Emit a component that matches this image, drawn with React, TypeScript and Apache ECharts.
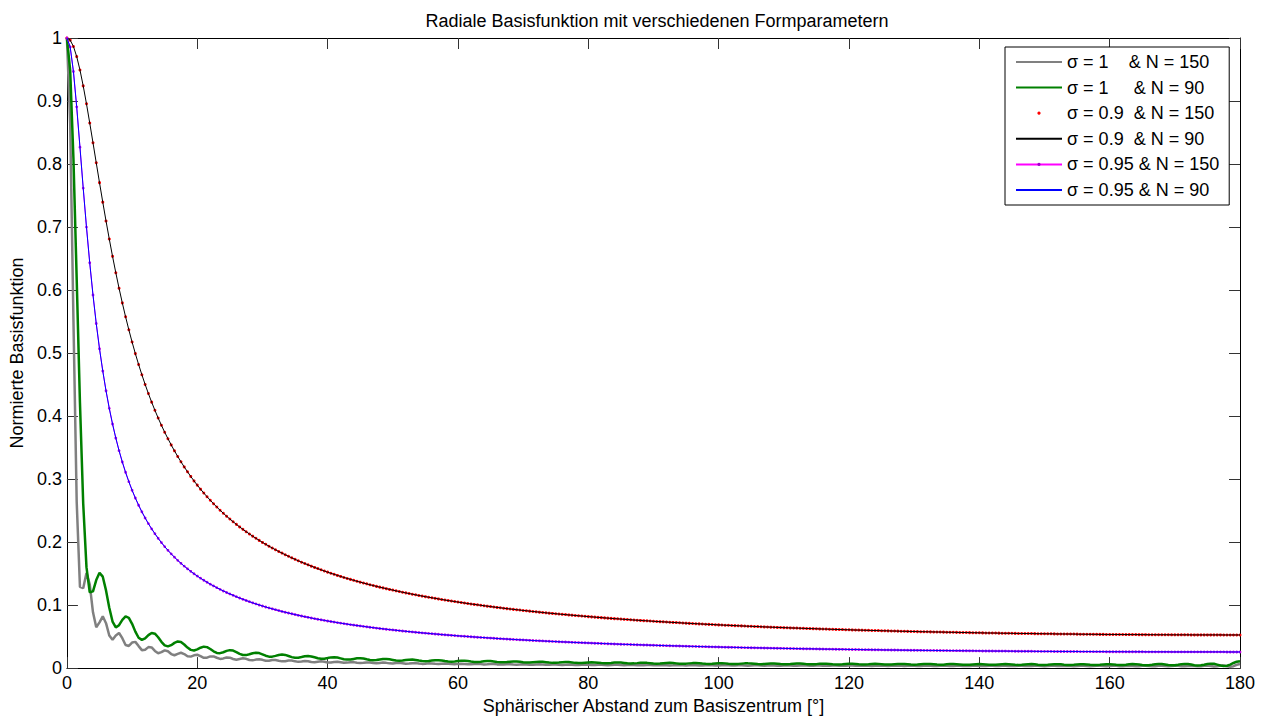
import React, { useEffect, useRef } from "react";
import * as echarts from "echarts";

// Spherical distance grid: samples every half degree from 0° to 180°
const ANGLE_STEP = 0.5;

const xTickLabels = ["0", "20", "40", "60", "80", "100", "120", "140", "160", "180"];
const yTickLabels = ["0", "0.1", "0.2", "0.3", "0.4", "0.5", "0.6", "0.7", "0.8", "0.9", "1"];

const seriesNames = [
  "σ = 1    & N = 150",
  "σ = 1     & N = 90",
  "σ = 0.9  & N = 150",
  "σ = 0.9  & N = 90",
  "σ = 0.95 & N = 150",
  "σ = 0.95 & N = 90",
];

// σ = 1, N = 150
const sigma1N150 = [
  1.0, 0.8644, 0.5528, 0.2639, 0.1288, 0.1268, 0.151, 0.133, 0.0886, 0.0649,
  0.0726, 0.0822, 0.0713, 0.0517, 0.0449, 0.0518, 0.0557, 0.0475, 0.0366, 0.0351,
  0.0405, 0.0416, 0.0349, 0.0285, 0.0292, 0.0333, 0.0328, 0.0273, 0.0236, 0.0253,
  0.0282, 0.0267, 0.0223, 0.0204, 0.0225, 0.0243, 0.0223, 0.0188, 0.0182, 0.0203,
  0.0212, 0.019, 0.0164, 0.0166, 0.0185, 0.0186, 0.0164, 0.0146, 0.0154, 0.0169,
  0.0165, 0.0144, 0.0133, 0.0144, 0.0155, 0.0147, 0.0128, 0.0123, 0.0135, 0.0142,
  0.0131, 0.0116, 0.0116, 0.0128, 0.013, 0.0118, 0.0107, 0.011, 0.0121, 0.012,
  0.0107, 0.0099, 0.0106, 0.0114, 0.011, 0.0098, 0.0094, 0.0102, 0.0107, 0.0101,
  0.009, 0.009, 0.0098, 0.0101, 0.0093, 0.0084, 0.0087, 0.0094, 0.0095, 0.0086,
  0.008, 0.0084, 0.009, 0.0088, 0.008, 0.0076, 0.0082, 0.0087, 0.0083, 0.0075,
  0.0074, 0.008, 0.0083, 0.0077, 0.007, 0.0072, 0.0078, 0.0079, 0.0072, 0.0067,
  0.007, 0.0075, 0.0074, 0.0068, 0.0065, 0.0069, 0.0073, 0.007, 0.0064, 0.0063,
  0.0067, 0.007, 0.0066, 0.0061, 0.0061, 0.0066, 0.0068, 0.0063, 0.0058, 0.006,
  0.0065, 0.0065, 0.0059, 0.0056, 0.0059, 0.0063, 0.0062, 0.0056, 0.0055, 0.0059,
  0.0062, 0.0059, 0.0054, 0.0054, 0.0058, 0.006, 0.0056, 0.0052, 0.0053, 0.0057,
  0.0058, 0.0053, 0.005, 0.0053, 0.0056, 0.0055, 0.0051, 0.0049, 0.0052, 0.0055,
  0.0053, 0.0049, 0.0048, 0.0052, 0.0054, 0.0051, 0.0047, 0.0048, 0.0052, 0.0052,
  0.0049, 0.0046, 0.0048, 0.0051, 0.005, 0.0047, 0.0045, 0.0047, 0.005, 0.0049,
  0.0045, 0.0044, 0.0047, 0.0049, 0.0047, 0.0043, 0.0044, 0.0047, 0.0048, 0.0045,
  0.0042, 0.0044, 0.0047, 0.0047, 0.0043, 0.0041, 0.0044, 0.0046, 0.0045, 0.0042,
  0.0041, 0.0044, 0.0046, 0.0044, 0.004, 0.004, 0.0044, 0.0045, 0.0042, 0.0039,
  0.004, 0.0044, 0.0044, 0.0041, 0.0039, 0.0041, 0.0043, 0.0043, 0.0039, 0.0038,
  0.0041, 0.0043, 0.0041, 0.0038, 0.0038, 0.0041, 0.0042, 0.004, 0.0037, 0.0038,
  0.0041, 0.0042, 0.0039, 0.0036, 0.0038, 0.0041, 0.0041, 0.0037, 0.0036, 0.0038,
  0.0041, 0.004, 0.0036, 0.0036, 0.0039, 0.0041, 0.0038, 0.0035, 0.0036, 0.0039,
  0.004, 0.0037, 0.0035, 0.0036, 0.0039, 0.0039, 0.0036, 0.0034, 0.0036, 0.0039,
  0.0038, 0.0035, 0.0034, 0.0037, 0.0039, 0.0037, 0.0034, 0.0034, 0.0037, 0.0039,
  0.0036, 0.0033, 0.0034, 0.0038, 0.0038, 0.0035, 0.0033, 0.0035, 0.0038, 0.0037,
  0.0034, 0.0033, 0.0035, 0.0038, 0.0036, 0.0033, 0.0033, 0.0036, 0.0038, 0.0035,
  0.0032, 0.0033, 0.0037, 0.0037, 0.0034, 0.0032, 0.0034, 0.0037, 0.0037, 0.0033,
  0.0031, 0.0034, 0.0037, 0.0036, 0.0032, 0.0032, 0.0035, 0.0037, 0.0035, 0.0031,
  0.0032, 0.0036, 0.0037, 0.0034, 0.0031, 0.0033, 0.0036, 0.0036, 0.0032, 0.003,
  0.0033, 0.0037, 0.0036, 0.0031, 0.003, 0.0034, 0.0037, 0.0035, 0.003, 0.003,
  0.0036, 0.0038, 0.0033, 0.0029, 0.0031, 0.0037, 0.0037, 0.0032, 0.0028, 0.0032,
  0.0038, 0.0036, 0.003, 0.0028, 0.0034, 0.0039, 0.0035, 0.0028, 0.0028, 0.0036,
  0.004, 0.0034, 0.0025, 0.0029, 0.004, 0.0042, 0.003, 0.002, 0.003, 0.0053,
  0.0066,
];

// σ = 1, N = 90
const sigma1N90 = [
  1.0, 0.9487, 0.8087, 0.6172, 0.421, 0.2609, 0.1602, 0.1201, 0.1218, 0.1397,
  0.1512, 0.1451, 0.1233, 0.0957, 0.0739, 0.0647, 0.0681, 0.0765, 0.082, 0.0798,
  0.0703, 0.0579, 0.0482, 0.0448, 0.0473, 0.0524, 0.0558, 0.0546, 0.049, 0.0417,
  0.0361, 0.0344, 0.0364, 0.04, 0.0423, 0.0414, 0.0375, 0.0326, 0.0289, 0.028,
  0.0297, 0.0324, 0.034, 0.0333, 0.0303, 0.0267, 0.0241, 0.0237, 0.0252, 0.0273,
  0.0285, 0.0278, 0.0254, 0.0226, 0.0208, 0.0206, 0.0219, 0.0236, 0.0245, 0.0238,
  0.0219, 0.0197, 0.0182, 0.0182, 0.0194, 0.0208, 0.0215, 0.0209, 0.0192, 0.0174,
  0.0163, 0.0164, 0.0175, 0.0187, 0.0192, 0.0185, 0.0171, 0.0156, 0.0147, 0.0149,
  0.0159, 0.017, 0.0173, 0.0167, 0.0154, 0.0141, 0.0135, 0.0137, 0.0146, 0.0155,
  0.0158, 0.0152, 0.014, 0.0129, 0.0124, 0.0127, 0.0136, 0.0143, 0.0145, 0.0139,
  0.0129, 0.0119, 0.0116, 0.0119, 0.0127, 0.0134, 0.0135, 0.0129, 0.0119, 0.0111,
  0.0108, 0.0112, 0.0119, 0.0125, 0.0126, 0.012, 0.0111, 0.0104, 0.0102, 0.0106,
  0.0113, 0.0118, 0.0118, 0.0112, 0.0104, 0.0098, 0.0096, 0.01, 0.0107, 0.0111,
  0.0111, 0.0105, 0.0098, 0.0092, 0.0092, 0.0096, 0.0102, 0.0106, 0.0105, 0.0099,
  0.0092, 0.0088, 0.0087, 0.0092, 0.0097, 0.0101, 0.01, 0.0094, 0.0088, 0.0083,
  0.0084, 0.0088, 0.0093, 0.0096, 0.0095, 0.0089, 0.0083, 0.008, 0.008, 0.0085,
  0.009, 0.0092, 0.009, 0.0085, 0.008, 0.0077, 0.0078, 0.0082, 0.0087, 0.0089,
  0.0087, 0.0082, 0.0076, 0.0074, 0.0075, 0.0079, 0.0084, 0.0086, 0.0083, 0.0078,
  0.0073, 0.0071, 0.0073, 0.0077, 0.0081, 0.0083, 0.008, 0.0075, 0.007, 0.0069,
  0.0071, 0.0075, 0.0079, 0.008, 0.0077, 0.0072, 0.0068, 0.0067, 0.0069, 0.0073,
  0.0077, 0.0078, 0.0075, 0.007, 0.0066, 0.0065, 0.0067, 0.0071, 0.0075, 0.0075,
  0.0072, 0.0068, 0.0064, 0.0063, 0.0066, 0.007, 0.0073, 0.0073, 0.007, 0.0065,
  0.0062, 0.0062, 0.0064, 0.0069, 0.0072, 0.0072, 0.0068, 0.0063, 0.006, 0.006,
  0.0063, 0.0068, 0.007, 0.007, 0.0066, 0.0062, 0.0059, 0.0059, 0.0062, 0.0066,
  0.0069, 0.0068, 0.0065, 0.006, 0.0057, 0.0058, 0.0061, 0.0066, 0.0068, 0.0067,
  0.0063, 0.0059, 0.0056, 0.0057, 0.0061, 0.0065, 0.0067, 0.0066, 0.0062, 0.0057,
  0.0055, 0.0056, 0.006, 0.0064, 0.0066, 0.0064, 0.006, 0.0056, 0.0054, 0.0055,
  0.006, 0.0064, 0.0065, 0.0063, 0.0059, 0.0055, 0.0053, 0.0055, 0.0059, 0.0063,
  0.0065, 0.0062, 0.0058, 0.0053, 0.0052, 0.0054, 0.0059, 0.0063, 0.0064, 0.0061,
  0.0057, 0.0052, 0.0051, 0.0054, 0.0059, 0.0063, 0.0064, 0.0061, 0.0055, 0.0051,
  0.005, 0.0053, 0.0059, 0.0063, 0.0063, 0.006, 0.0054, 0.005, 0.0049, 0.0053,
  0.0059, 0.0063, 0.0063, 0.0059, 0.0053, 0.0049, 0.0049, 0.0053, 0.0059, 0.0063,
  0.0063, 0.0059, 0.0052, 0.0048, 0.0048, 0.0053, 0.006, 0.0064, 0.0063, 0.0058,
  0.0051, 0.0046, 0.0047, 0.0053, 0.0061, 0.0065, 0.0064, 0.0057, 0.0049, 0.0045,
  0.0046, 0.0054, 0.0063, 0.0067, 0.0064, 0.0056, 0.0046, 0.0041, 0.0045, 0.0054,
  0.0066, 0.0071, 0.0068, 0.0055, 0.0041, 0.0033, 0.0038, 0.0056, 0.0081, 0.0102,
  0.011,
];

// σ = 0.9 (N = 150 and N = 90 coincide)
const sigma09 = [
  1.0, 0.9966, 0.9866, 0.9705, 0.9493, 0.924, 0.8956, 0.8652, 0.8338, 0.802,
  0.7704, 0.7395, 0.7096, 0.6809, 0.6535, 0.6275, 0.6028, 0.5796, 0.5576, 0.5369,
  0.5175, 0.4991, 0.4818, 0.4656, 0.4502, 0.4358, 0.4221, 0.4092, 0.3969, 0.3854,
  0.3744, 0.3641, 0.3542, 0.3448, 0.3359, 0.3274, 0.3193, 0.3116, 0.3042, 0.2971,
  0.2904, 0.284, 0.2778, 0.272, 0.2663, 0.2609, 0.2556, 0.2506, 0.2457, 0.2411,
  0.2366, 0.2323, 0.2281, 0.2241, 0.2202, 0.2165, 0.2129, 0.2094, 0.206, 0.2027,
  0.1995, 0.1965, 0.1935, 0.1906, 0.1878, 0.1851, 0.1825, 0.1799, 0.1774, 0.175,
  0.1726, 0.1703, 0.1681, 0.166, 0.1639, 0.1618, 0.1598, 0.1579, 0.156, 0.1541,
  0.1523, 0.1505, 0.1488, 0.1471, 0.1455, 0.1439, 0.1423, 0.1408, 0.1393, 0.1378,
  0.1364, 0.135, 0.1337, 0.1323, 0.131, 0.1297, 0.1285, 0.1273, 0.1261, 0.1249,
  0.1238, 0.1226, 0.1215, 0.1204, 0.1194, 0.1183, 0.1173, 0.1163, 0.1153, 0.1143,
  0.1134, 0.1125, 0.1116, 0.1107, 0.1098, 0.1089, 0.1081, 0.1072, 0.1064, 0.1056,
  0.1048, 0.104, 0.1033, 0.1025, 0.1018, 0.1011, 0.1004, 0.0997, 0.099, 0.0983,
  0.0976, 0.097, 0.0963, 0.0957, 0.0951, 0.0944, 0.0938, 0.0932, 0.0927, 0.0921,
  0.0915, 0.091, 0.0904, 0.0899, 0.0893, 0.0888, 0.0883, 0.0877, 0.0872, 0.0868,
  0.0863, 0.0858, 0.0853, 0.0849, 0.0844, 0.084, 0.0835, 0.0831, 0.0826, 0.0822,
  0.0817, 0.0813, 0.0809, 0.0805, 0.0801, 0.0797, 0.0793, 0.0789, 0.0785, 0.0782,
  0.0778, 0.0774, 0.0771, 0.0767, 0.0763, 0.076, 0.0757, 0.0753, 0.075, 0.0747,
  0.0743, 0.074, 0.0737, 0.0734, 0.0731, 0.0728, 0.0725, 0.0722, 0.0719, 0.0716,
  0.0713, 0.071, 0.0707, 0.0705, 0.0702, 0.0699, 0.0697, 0.0694, 0.0692, 0.0689,
  0.0686, 0.0684, 0.0681, 0.0679, 0.0677, 0.0674, 0.0672, 0.067, 0.0667, 0.0665,
  0.0663, 0.0661, 0.0659, 0.0656, 0.0654, 0.0652, 0.065, 0.0648, 0.0646, 0.0644,
  0.0642, 0.064, 0.0638, 0.0636, 0.0635, 0.0633, 0.0631, 0.0629, 0.0627, 0.0626,
  0.0624, 0.0622, 0.062, 0.0619, 0.0617, 0.0615, 0.0614, 0.0612, 0.0611, 0.0609,
  0.0608, 0.0606, 0.0604, 0.0603, 0.0602, 0.06, 0.0599, 0.0597, 0.0596, 0.0595,
  0.0593, 0.0592, 0.0591, 0.0589, 0.0588, 0.0587, 0.0585, 0.0584, 0.0583, 0.0582,
  0.0581, 0.0579, 0.0578, 0.0577, 0.0576, 0.0575, 0.0574, 0.0573, 0.0572, 0.0571,
  0.057, 0.0569, 0.0568, 0.0567, 0.0566, 0.0565, 0.0564, 0.0563, 0.0562, 0.0561,
  0.056, 0.0559, 0.0558, 0.0557, 0.0557, 0.0556, 0.0555, 0.0554, 0.0553, 0.0553,
  0.0552, 0.0551, 0.055, 0.055, 0.0549, 0.0548, 0.0548, 0.0547, 0.0546, 0.0546,
  0.0545, 0.0544, 0.0544, 0.0543, 0.0542, 0.0542, 0.0541, 0.0541, 0.054, 0.054,
  0.0539, 0.0538, 0.0538, 0.0537, 0.0537, 0.0536, 0.0536, 0.0535, 0.0535, 0.0534,
  0.0534, 0.0534, 0.0534, 0.0533, 0.0533, 0.0532, 0.0532, 0.0532, 0.0532, 0.0531,
  0.0531, 0.0531, 0.053, 0.053, 0.053, 0.0529, 0.0529, 0.0529, 0.0529, 0.0528,
  0.0528, 0.0528, 0.0528, 0.0528, 0.0528, 0.0527, 0.0527, 0.0527, 0.0527, 0.0527,
  0.0527, 0.0527, 0.0527, 0.0527, 0.0527, 0.0526, 0.0526, 0.0526, 0.0526, 0.0526,
  0.0526,
];

// σ = 0.95 (N = 150 and N = 90 coincide)
const sigma095 = [
  1.0, 0.9858, 0.9467, 0.8907, 0.8268, 0.7618, 0.6999, 0.6432, 0.5922, 0.5469,
  0.5069, 0.4715, 0.4401, 0.4122, 0.3874, 0.3651, 0.3451, 0.3271, 0.3107, 0.2959,
  0.2823, 0.2699, 0.2585, 0.248, 0.2383, 0.2293, 0.221, 0.2133, 0.206, 0.1992,
  0.1928, 0.1869, 0.1813, 0.176, 0.171, 0.1663, 0.1618, 0.1576, 0.1536, 0.1497,
  0.1461, 0.1427, 0.1394, 0.1363, 0.1332, 0.1304, 0.1276, 0.125, 0.1224, 0.12,
  0.1177, 0.1155, 0.1133, 0.1112, 0.1092, 0.1073, 0.1054, 0.1036, 0.1019, 0.1002,
  0.0986, 0.097, 0.0955, 0.0941, 0.0927, 0.0913, 0.0899, 0.0886, 0.0874, 0.0862,
  0.085, 0.0838, 0.0827, 0.0816, 0.0806, 0.0795, 0.0785, 0.0775, 0.0766, 0.0757,
  0.0748, 0.0739, 0.0731, 0.0722, 0.0714, 0.0706, 0.0698, 0.069, 0.0683, 0.0676,
  0.0669, 0.0662, 0.0655, 0.0648, 0.0642, 0.0635, 0.0629, 0.0623, 0.0617, 0.0611,
  0.0606, 0.06, 0.0595, 0.0589, 0.0584, 0.0579, 0.0574, 0.0569, 0.0564, 0.0559,
  0.0555, 0.055, 0.0546, 0.0541, 0.0537, 0.0532, 0.0528, 0.0524, 0.052, 0.0516,
  0.0512, 0.0508, 0.0505, 0.0501, 0.0497, 0.0494, 0.049, 0.0487, 0.0484, 0.048,
  0.0477, 0.0474, 0.047, 0.0467, 0.0464, 0.0461, 0.0458, 0.0455, 0.0452, 0.0449,
  0.0447, 0.0444, 0.0441, 0.0438, 0.0436, 0.0433, 0.0431, 0.0428, 0.0426, 0.0423,
  0.0421, 0.0418, 0.0416, 0.0414, 0.0412, 0.0409, 0.0407, 0.0405, 0.0403, 0.0401,
  0.0399, 0.0397, 0.0395, 0.0393, 0.0391, 0.0389, 0.0387, 0.0385, 0.0383, 0.0381,
  0.0379, 0.0377, 0.0376, 0.0374, 0.0372, 0.037, 0.0369, 0.0367, 0.0366, 0.0364,
  0.0363, 0.0361, 0.0359, 0.0358, 0.0356, 0.0355, 0.0353, 0.0352, 0.0351, 0.0349,
  0.0348, 0.0346, 0.0345, 0.0344, 0.0342, 0.0341, 0.034, 0.0338, 0.0337, 0.0336,
  0.0335, 0.0333, 0.0332, 0.0331, 0.033, 0.0329, 0.0328, 0.0326, 0.0325, 0.0324,
  0.0323, 0.0322, 0.0321, 0.032, 0.0319, 0.0318, 0.0317, 0.0316, 0.0315, 0.0314,
  0.0313, 0.0312, 0.0311, 0.031, 0.0309, 0.0308, 0.0307, 0.0306, 0.0306, 0.0305,
  0.0304, 0.0303, 0.0302, 0.0301, 0.0301, 0.03, 0.0299, 0.0298, 0.0298, 0.0297,
  0.0296, 0.0295, 0.0295, 0.0294, 0.0293, 0.0292, 0.0292, 0.0291, 0.029, 0.029,
  0.0289, 0.0288, 0.0288, 0.0287, 0.0287, 0.0286, 0.0285, 0.0285, 0.0284, 0.0283,
  0.0283, 0.0282, 0.0282, 0.0281, 0.0281, 0.028, 0.028, 0.0279, 0.0279, 0.0278,
  0.0278, 0.0277, 0.0277, 0.0276, 0.0276, 0.0275, 0.0275, 0.0274, 0.0274, 0.0273,
  0.0273, 0.0272, 0.0272, 0.0271, 0.0271, 0.027, 0.027, 0.027, 0.027, 0.0269,
  0.0269, 0.0268, 0.0268, 0.0267, 0.0267, 0.0267, 0.0267, 0.0266, 0.0266, 0.0265,
  0.0265, 0.0265, 0.0265, 0.0264, 0.0264, 0.0264, 0.0264, 0.0263, 0.0263, 0.0263,
  0.0263, 0.0262, 0.0262, 0.0262, 0.0262, 0.0261, 0.0261, 0.0261, 0.0261, 0.026,
  0.026, 0.026, 0.026, 0.026, 0.026, 0.0259, 0.0259, 0.0259, 0.0259, 0.0259,
  0.0259, 0.0258, 0.0258, 0.0258, 0.0258, 0.0258, 0.0258, 0.0258, 0.0258, 0.0257,
  0.0257, 0.0257, 0.0257, 0.0257, 0.0257, 0.0257, 0.0257, 0.0257, 0.0257, 0.0257,
  0.0257, 0.0257, 0.0257, 0.0257, 0.0257, 0.0257, 0.0256, 0.0256, 0.0256, 0.0256,
  0.0256,
];

const FONT = '"Liberation Sans", Arial, Helvetica, sans-serif';
const AXIS_COLOR = "#000";
const TICK_COLOR = "#333";

const toPoints = (values: number[]) => values.map((v, i) => [i * ANGLE_STEP, v]);

function buildOption(): echarts.EChartsOption {
  const lineBase = {
    type: "line" as const,
    xAxisIndex: 0,
    yAxisIndex: 0,
    showSymbol: false,
    symbol: "none",
    smooth: false,
    clip: true,
    emphasis: { disabled: true },
  };

  const tickCommon = {
    inside: true,
    length: 11,
    lineStyle: { color: TICK_COLOR, width: 1 },
  };

  return {
    animation: false,
    backgroundColor: "#fff",
    textStyle: { fontFamily: FONT },
    title: {
      text: "Radiale Basisfunktion mit verschiedenen Formparametern",
      left: 652,
      top: 7,
      textAlign: "center",
      textStyle: { fontFamily: FONT, fontSize: 18, fontWeight: "normal", color: "#000" },
    },
    grid: { left: 65, right: 23, top: 38, bottom: 51, containLabel: false },
    legend: {
      orient: "vertical",
      left: 1005,
      top: 47,
      itemWidth: 46,
      itemHeight: 4,
      itemGap: 7.6,
      padding: [6, 10, 6, 10],
      backgroundColor: "#fff",
      borderColor: "#000",
      borderWidth: 1,
      borderRadius: 0,
      selectedMode: false,
      z: 10,
      textStyle: { fontFamily: FONT, fontSize: 18, color: "#000" },
      data: [
        { name: seriesNames[0], itemStyle: { opacity: 0 } },
        { name: seriesNames[1], itemStyle: { opacity: 0 } },
        { name: seriesNames[2] },
        { name: seriesNames[3], itemStyle: { opacity: 0 } },
        { name: seriesNames[4], itemStyle: { color: "#a000c8" } },
        { name: seriesNames[5], itemStyle: { opacity: 0 } },
      ],
    },
    xAxis: [
      {
        type: "value",
        position: "bottom",
        min: 0,
        max: 180,
        interval: 20,
        name: "Sphärischer Abstand zum Basiszentrum [°]",
        nameLocation: "middle",
        nameGap: 27,
        nameTextStyle: { fontFamily: FONT, fontSize: 18, color: "#000" },
        axisLine: { onZero: false, lineStyle: { color: AXIS_COLOR, width: 1 } },
        axisTick: tickCommon,
        axisLabel: {
          margin: 6,
          fontFamily: FONT,
          fontSize: 18,
          color: "#000",
          formatter: (_v: number, i: number) => xTickLabels[i] ?? "",
        },
        splitLine: { show: false },
      },
      {
        type: "value",
        position: "top",
        min: 0,
        max: 180,
        interval: 20,
        axisLine: { onZero: false, lineStyle: { color: AXIS_COLOR, width: 1 } },
        axisTick: tickCommon,
        axisLabel: { show: false },
        splitLine: { show: false },
      },
    ],
    yAxis: [
      {
        type: "value",
        position: "left",
        min: 0,
        max: 1,
        interval: 0.1,
        name: "Normierte Basisfunktion",
        nameLocation: "middle",
        nameGap: 39,
        nameTextStyle: { fontFamily: FONT, fontSize: 18, color: "#000" },
        axisLine: { onZero: false, lineStyle: { color: AXIS_COLOR, width: 1 } },
        axisTick: tickCommon,
        axisLabel: {
          margin: 5,
          fontFamily: FONT,
          fontSize: 18,
          color: "#000",
          formatter: (_v: number, i: number) => yTickLabels[i] ?? "",
        },
        splitLine: { show: false },
      },
      {
        type: "value",
        position: "right",
        min: 0,
        max: 1,
        interval: 0.1,
        axisLine: { onZero: false, lineStyle: { color: AXIS_COLOR, width: 1 } },
        axisTick: tickCommon,
        axisLabel: { show: false },
        splitLine: { show: false },
      },
    ],
    series: [
      {
        ...lineBase,
        name: seriesNames[0],
        z: 2,
        data: toPoints(sigma1N150),
        lineStyle: { color: "#808080", width: 2.5 },
        itemStyle: { color: "#808080" },
      },
      {
        ...lineBase,
        name: seriesNames[1],
        z: 3,
        data: toPoints(sigma1N90),
        lineStyle: { color: "#008000", width: 2.5 },
        itemStyle: { color: "#008000" },
      },
      {
        ...lineBase,
        name: seriesNames[2],
        z: 4,
        data: toPoints(sigma09),
        showSymbol: true,
        showAllSymbol: true,
        symbol: "circle",
        symbolSize: 3,
        lineStyle: { color: "#ff0000", width: 0, opacity: 0 },
        itemStyle: { color: "#ff0000", borderWidth: 0 },
      },
      {
        ...lineBase,
        name: seriesNames[3],
        z: 5,
        data: toPoints(sigma09),
        lineStyle: { color: "#000000", width: 1 },
        itemStyle: { color: "#000000" },
      },
      {
        ...lineBase,
        name: seriesNames[4],
        z: 6,
        data: toPoints(sigma095),
        showSymbol: true,
        showAllSymbol: true,
        symbol: "circle",
        symbolSize: 2.8,
        lineStyle: { color: "#ff00ff", width: 1 },
        itemStyle: { color: "#c000e0", borderWidth: 0 },
      },
      {
        ...lineBase,
        name: seriesNames[5],
        z: 7,
        data: toPoints(sigma095),
        lineStyle: { color: "#0000ff", width: 1 },
        itemStyle: { color: "#0000ff" },
      },
    ],
  } as echarts.EChartsOption;
}

export default function App() {
  const ref = useRef<HTMLDivElement>(null);

  useEffect(() => {
    if (!ref.current) return;
    const chart = echarts.init(ref.current, undefined, { renderer: "svg" });
    chart.setOption(buildOption());
    return () => chart.dispose();
  }, []);

  return (
    <div
      ref={ref}
      style={{
        position: "fixed",
        left: 0,
        top: 0,
        width: 1263,
        height: 720,
        background: "#fff",
      }}
    />
  );
}
